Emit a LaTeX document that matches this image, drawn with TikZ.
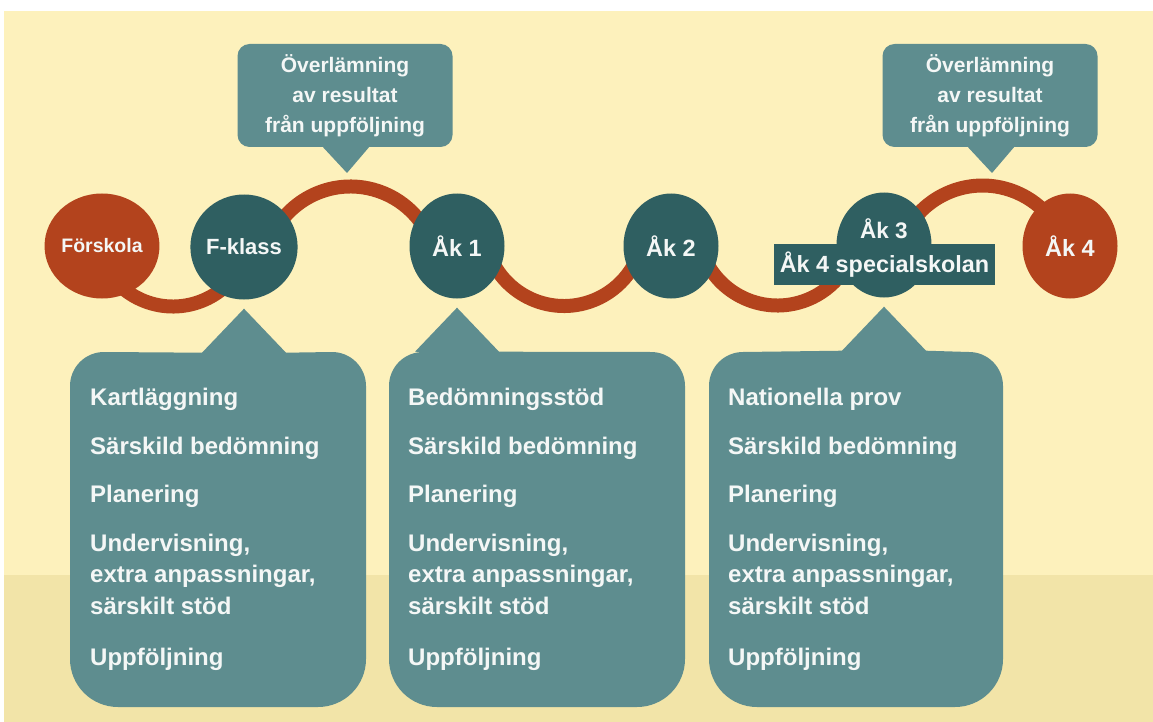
\documentclass[tikz,border=0pt]{standalone}
\usepackage{fontspec}
\setmainfont{Liberation Sans}
\usetikzlibrary{shapes.geometric,calc,backgrounds}
\definecolor{cream}{HTML}{FDF1BC}
\definecolor{band}{HTML}{F2E4A8}
\definecolor{darkteal}{HTML}{2F5F61}
\definecolor{boxteal}{HTML}{5E8D8F}
\definecolor{rust}{HTML}{B3431D}
\definecolor{txt}{HTML}{F4F7F6}
\newcommand\lowbox[4]{% left, right, tip coordinate, colour
  \fill[#4] (#1+34,-352) -- ($(#3)+(-42,-44)$) -- (#3) -- ($(#3)+(42,-44)$)
    -- (#2-34,-352) arc[start angle=90,end angle=0,radius=34]
    -- (#2,-659) arc[start angle=0,end angle=-90,radius=48]
    -- (#1+48,-707) arc[start angle=270,end angle=180,radius=48]
    -- (#1,-386) arc[start angle=180,end angle=90,radius=34] -- cycle;}
\begin{document}
\begin{tikzpicture}[x=1pt,y=1pt,
  dot/.style={ellipse,inner sep=0,minimum width=95,minimum height=105,text=txt,
    font=\bfseries\fontsize{23.5}{27}\selectfont},
  tealdot/.style={dot,fill=darkteal},
  rustdot/.style={dot,fill=rust},
  wave/.style={draw=rust,line width=14},
  callout/.style={fill=boxteal,rounded corners=12,minimum width=215,minimum height=103,
    inner sep=0,align=center,text=txt,font=\bfseries\fontsize{21}{30}\selectfont},
  pointer/.style={fill=boxteal},
  listtext/.style={anchor=north west,inner sep=0,align=left,text=txt,
    font=\bfseries\fontsize{24}{31.5}\selectfont},
  speclabel/.style={fill=darkteal,inner sep=0,minimum width=221,minimum height=41,text=txt,
    font=\bfseries\fontsize{23.4}{27}\selectfont},
  plainlabel/.style={inner sep=0,text=txt,font=\bfseries\fontsize{22.5}{27}\selectfont}
]
\useasboundingbox (0,0) rectangle (1153,-722);

% circles
\node[rustdot,font=\bfseries\fontsize{19.5}{23}\selectfont] (fsk) at (102,-246) {Förskola};
\node[tealdot,font=\bfseries\fontsize{22}{26}\selectfont] (fk) at (244,-247) {F-klass};
\node[tealdot] (ak1) at (457,-246) {Åk 1};
\node[tealdot] (ak2) at (671,-246) {Åk 2};
\node[tealdot] (ak3) at (884,-245) {};
\node[rustdot] (ak4) at (1070,-246) {Åk 4};
\node[plainlabel] (ak3t) at (884,-229) {Åk 3};
\node[speclabel] (spec) at (884.5,-264.5) {Åk 4 specialskolan};

% background and wave
\begin{pgfonlayer}{background}
  \fill[white] (0,0) rectangle (1153,-722);
  \fill[cream] (4,-11) rectangle (1153,-722);
  \fill[band] (4,-575) rectangle (1153,-722);
  \draw[wave] ($(fsk)!0.5!(fk)$) ++(0,18) ++(195:78) arc[start angle=195,end angle=345,radius=78];
  \draw[wave] ($(fk)!0.5!(ak1)$) ++(0,-27) ++(165:87) arc[start angle=165,end angle=15,radius=87];
  \draw[wave] ($(ak1)!0.5!(ak2)$) ++(0,20) ++(195:80) arc[start angle=195,end angle=345,radius=80];
  \draw[wave] ($(ak2)!0.5!(ak3)$) ++(0,20) ++(195:80) arc[start angle=195,end angle=345,radius=80];
  \draw[wave] ($(ak3)!0.53!(ak4)$) ++(0,-27) ++(165:87) arc[start angle=165,end angle=15,radius=87];
\end{pgfonlayer}

% top callouts
\node[callout] (ov1) at (345,-95.5) {Överlämning\\av resultat\\från uppföljning};
\coordinate (ov1tip) at (347,-173);
\fill[pointer] ([xshift=-22]ov1.south) -- (ov1tip) -- ([xshift=24]ov1.south) -- cycle;
\node[callout] (ov2) at (990,-95.5) {Överlämning\\av resultat\\från uppföljning};
\coordinate (ov2tip) at (992,-173);
\fill[pointer] ([xshift=-22]ov2.south) -- (ov2tip) -- ([xshift=24]ov2.south) -- cycle;

% lower boxes
\coordinate (t1) at ([yshift=-9]fk.south);
\coordinate (t2) at ([yshift=-9]ak1.south);
\coordinate (t3) at ([yshift=-9]ak3.south);
\lowbox{70}{366}{t1}{boxteal}
\lowbox{389}{685}{t2}{boxteal}
\lowbox{709}{1003}{t3}{boxteal}

\node[listtext] (l1) at (90,-388) {Kartläggning\\[17pt]Särskild bedömning\\[17pt]Planering\\[17pt]Undervisning,\\extra anpassningar,\\särskilt stöd\\[19.5pt]Uppföljning};
\node[listtext] (l2) at (408,-388) {Bedömningsstöd\\[17pt]Särskild bedömning\\[17pt]Planering\\[17pt]Undervisning,\\extra anpassningar,\\särskilt stöd\\[19.5pt]Uppföljning};
\node[listtext] (l3) at (728,-388) {Nationella prov\\[17pt]Särskild bedömning\\[17pt]Planering\\[17pt]Undervisning,\\extra anpassningar,\\särskilt stöd\\[19.5pt]Uppföljning};
\end{tikzpicture}
\end{document}
